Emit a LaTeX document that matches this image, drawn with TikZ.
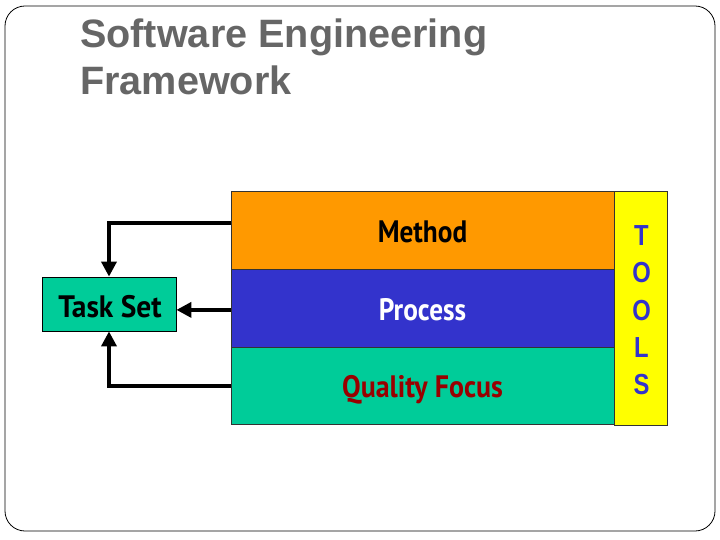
\documentclass[tikz,border=0pt]{standalone}
\usepackage{fontspec}
\setmainfont{Liberation Sans}
\newfontfamily\boxfont{PT Sans}
\usetikzlibrary{arrows.meta}
\definecolor{orangeC}{HTML}{FF9900}
\definecolor{blueC}{HTML}{3333CC}
\definecolor{greenC}{HTML}{00CC99}
\definecolor{yellowC}{HTML}{FFFF00}
\definecolor{redC}{HTML}{990000}
\definecolor{titleC}{HTML}{666666}
\newcommand{\boxlabel}[2][0.88]{\scalebox{#1}[1]{#2}}
\begin{document}
\begin{tikzpicture}[x=1pt,y=-1pt,
  layer/.style={draw=black!80,line width=0.8pt,minimum width=383pt,minimum height=78pt,anchor=north west,inner sep=0pt},
  lbl/.style={anchor=base,inner sep=0pt,font=\boxfont\bfseries\fontsize{31}{34}\selectfont},
  arr/.style={line width=3.6pt,-{Triangle[length=15pt,width=15pt]}},
  title/.style={anchor=base west,text=titleC,font=\bfseries\fontsize{39.6}{46}\selectfont,inner sep=0pt},
  toolletter/.style={anchor=center,inner sep=0pt,text=blueC,font=\bfseries\fontsize{29}{30}\selectfont}]
\useasboundingbox (0,0) rectangle (720,540);
\draw[line width=0.8pt,rounded corners=20pt] (5,6) rectangle (715,531);
\node[title] (t1) at (80,48) {Software Engineering};
\node[title] (t2) at (80,95) {Framework};
\node[layer,fill=orangeC] (method) at (231,191) {};
\node[layer,fill=blueC] (process) at (231,269) {};
\node[layer,fill=greenC,minimum height=77pt] (quality) at (231,347) {};
\node[lbl,text=black] (lm) at (422.5,242) {\boxlabel{Method}};
\node[lbl,text=white] (lp) at (422.5,320) {\boxlabel{Process}};
\node[lbl,text=redC] (lq) at (422.5,397) {\boxlabel[0.9]{Quality Focus}};
\node[draw=black!80,line width=0.8pt,fill=yellowC,anchor=north west,minimum width=53pt,minimum height=234pt,inner sep=0pt] (tools) at (614,191) {};
\foreach \l/\y [count=\i] in {T/236,O/273,O/310.5,L/348,S/385}
  \node[toolletter] (tl\i) at (641.5,\y) {\scalebox{0.82}[1]{\l}};
\node[draw=black,line width=0.8pt,fill=greenC,minimum width=134pt,minimum height=54pt,inner sep=0pt] (taskset) at (109,304) {};
\node[lbl,text=black] (lt) at (110,317) {\boxlabel[0.95]{Task Set}};
\draw[arr] ([yshift=7.5pt]method.west) -| (taskset.north);
\draw[arr] ([yshift=-1.5pt]process.west) -- ([yshift=-1.5pt]process.west -| taskset.east);
\draw[arr] (quality.west) -| (taskset.south);
\end{tikzpicture}
\end{document}
